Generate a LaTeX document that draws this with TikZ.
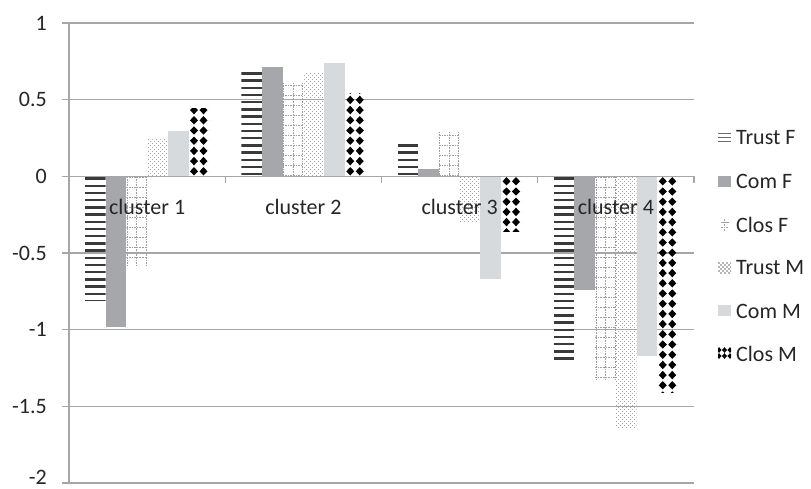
\documentclass[tikz,border=0pt]{standalone}
\usepackage{fontspec}
\setmainfont{Carlito}
\definecolor{gridc}{HTML}{A6A6A6}
\definecolor{comf}{HTML}{A5A7AA}
\definecolor{comm}{HTML}{D7DADD}
\definecolor{trustc}{HTML}{3A3A3A}
\definecolor{closf}{HTML}{A0A0A0}
\definecolor{dotc}{HTML}{A4A4A4}
\definecolor{txtc}{HTML}{262626}
\newcommand\setbar[3]{%
  \pgfmathsetmacro\bxa{85+156.25*#1+20.7*#2}%
  \pgfmathsetmacro\bxb{\bxa+20.7}%
  \pgfmathsetmacro\byv{176.3-153.3*(#3)}%
  \pgfmathsetmacro\bytop{min(176.3,\byv)}%
  \pgfmathsetmacro\bybot{max(176.3,\byv)}%
  \pgfmathsetmacro\sg{ifthenelse(#3<0,1,-1)}%
}
\newcommand\trustFbar[2]{%
  \setbar{#1}{0}{#2}%
  \pgfmathtruncatemacro\nk{abs(\byv-176.3)/7.2}%
  \begin{scope}
    \clip (\bxa,\bytop) rectangle (\bxb,\bybot);
    \foreach \k in {0,...,\nk} {
      \pgfmathsetmacro\yy{176.3+\sg*(2.2+7.2*\k)}
      \fill[trustc] (\bxa,\yy-1.2) rectangle (\bxb,\yy+1.2);
    }
  \end{scope}}
\newcommand\comFbar[2]{%
  \setbar{#1}{1}{#2}%
  \fill[comf] (\bxa,176.3) rectangle (\bxb,\byv);}
\newcommand\closFbar[2]{%
  \setbar{#1}{2}{#2}%
  \pgfmathtruncatemacro\nk{abs(\byv-176.3)/10}%
  \begin{scope}
    \clip (\bxa,\bytop) rectangle (\bxb,\bybot);
    \foreach \xo in {0.8,10.35,19.9}
      \draw[closf,line width=0.9,dash pattern=on 1.6 off 1] (\bxa+\xo,\bytop) -- (\bxa+\xo,\bybot);
    \foreach \k in {0,...,\nk} {
      \pgfmathsetmacro\yy{176.3+\sg*(1+10*\k)}
      \draw[closf,line width=0.9,dash pattern=on 1.6 off 1] (\bxa,\yy) -- (\bxb,\yy);
    }
  \end{scope}}
\newcommand\trustMbar[2]{%
  \setbar{#1}{3}{#2}%
  \pgfmathtruncatemacro\nk{abs(\byv-176.3)/2}%
  \begin{scope}
    \clip (\bxa,\bytop) rectangle (\bxb,\bybot);
    \foreach \k in {0,...,\nk} {
      \pgfmathsetmacro\yy{176.3+\sg*(1+2*\k)}
      \pgfmathsetmacro\off{mod(\k,2)*2}
      \foreach \c in {0,...,5}
        \fill[dotc] (\bxa+\off+1+4*\c-0.6,\yy-0.6) rectangle (\bxa+\off+1+4*\c+0.6,\yy+0.6);
    }
  \end{scope}}
\newcommand\comMbar[2]{%
  \setbar{#1}{4}{#2}%
  \fill[comm] (\bxa,176.3) rectangle (\bxb,\byv);}
\newcommand\closMbar[2]{%
  \setbar{#1}{5}{#2}%
  \pgfmathtruncatemacro\nk{abs(\byv-176.3)/10.2+1}%
  \begin{scope}
    \clip (\bxa,\bytop) rectangle (\bxb,\bybot);
    \foreach \k in {0,...,\nk} {
      \pgfmathsetmacro\yy{176.3+\sg*(5+10.2*\k)}
      \foreach \xo in {-4,5.5,15,24.5}
        \fill[black] (\bxa+\xo,\yy-4.2) -- (\bxa+\xo+4,\yy) -- (\bxa+\xo,\yy+4.2) -- (\bxa+\xo-4,\yy) -- cycle;
    }
  \end{scope}}
\tikzset{
  gridl/.style={draw=gridc,line width=1.4},
  lbl/.style={font=\fontsize{22}{26}\selectfont,text=txtc,inner sep=0pt},
}
\begin{document}
\begin{tikzpicture}[x=1pt,y=-1pt]
\fill[white] (0,0) rectangle (811,488);
\useasboundingbox (0,0) rectangle (811,488);
% grid lines
\foreach \v in {1,0.5,-0.5,-1,-1.5,-2}
  \draw[gridl] (62,{176.3-153.3*\v}) -- (694,{176.3-153.3*\v});
\draw[gridl] (69,23) -- (69,483);
% bars
\trustFbar{0}{-0.81} \comFbar{0}{-0.98} \closFbar{0}{-0.59}
\trustMbar{0}{0.237} \comMbar{0}{0.295} \closMbar{0}{0.44}
\trustFbar{1}{0.68} \comFbar{1}{0.71} \closFbar{1}{0.61}
\trustMbar{1}{0.675} \comMbar{1}{0.74} \closMbar{1}{0.54}
\trustFbar{2}{0.226} \comFbar{2}{0.047} \closFbar{2}{0.29}
\trustMbar{2}{-0.30} \comMbar{2}{-0.67} \closMbar{2}{-0.36}
\trustFbar{3}{-1.23} \comFbar{3}{-0.74} \closFbar{3}{-1.33}
\trustMbar{3}{-1.64} \comMbar{3}{-1.17} \closMbar{3}{-1.41}
% zero axis and ticks
\draw[gridl] (62,176.3) -- (694,176.3);
\foreach \xt in {225.25,381.5,537.75,694}
  \draw[gridl] (\xt,176.3) -- (\xt,182.5);
% y labels
\node[lbl,anchor=east] (y1) at (47,23) {1};
\node[lbl,anchor=east] (y2) at (47,99.65) {0.5};
\node[lbl,anchor=east] (y3) at (47,176.3) {0};
\node[lbl,anchor=east] (y4) at (47,252.95) {-0.5};
\node[lbl,anchor=east] (y5) at (47,329.6) {-1};
\node[lbl,anchor=east] (y6) at (47,406.25) {-1.5};
\node[lbl,anchor=east] (y7) at (47,477.5) {-2};
% category labels
\node[lbl,anchor=base] (c1) at (147.1,214) {cluster 1};
\node[lbl,anchor=base] (c2) at (303.4,214) {cluster 2};
\node[lbl,anchor=base] (c3) at (459.6,214) {cluster 3};
\node[lbl,anchor=base] (c4) at (615.9,214) {cluster 4};
% legend markers
\begin{scope}
  \clip (718,132) rectangle (731,144);
  \foreach \yy in {133.5,137.5,141.5}
    \fill[trustc!75] (718,\yy-0.7) rectangle (731,\yy+0.7);
\end{scope}
\fill[comf] (718,176) rectangle (731,187);
\begin{scope}
  \draw[closf,line width=0.9,dash pattern=on 1.6 off 1] (724.5,219) -- (724.5,231);
  \draw[closf,line width=0.9] (720.5,222) -- (728.5,222);
  \draw[closf,line width=0.9,dash pattern=on 1.6 off 1] (721,227) -- (728,227);
\end{scope}
\begin{scope}
  \clip (718,262) rectangle (731,273);
  \foreach \k in {0,...,5} {
    \pgfmathsetmacro\yy{263+2*\k}
    \pgfmathsetmacro\off{mod(\k,2)*2}
    \foreach \c in {0,...,3}
      \fill[dotc!80] (718+\off+1+4*\c-0.6,\yy-0.6) rectangle (718+\off+1+4*\c+0.6,\yy+0.6);
  }
\end{scope}
\fill[comm] (718,305) rectangle (731,316);
\begin{scope}
  \clip (718,347) rectangle (731,359);
  \foreach \yy in {350,356}
    \foreach \xx in {719,724.5,730}
      \fill[black] (\xx,\yy-2.8) -- (\xx+2.6,\yy) -- (\xx,\yy+2.8) -- (\xx-2.6,\yy) -- cycle;
\end{scope}
% legend texts
\node[lbl,anchor=west] (l1) at (736,138) {Trust F};
\node[lbl,anchor=west] (l2) at (736,181.5) {Com F};
\node[lbl,anchor=west] (l3) at (736,225) {Clos F};
\node[lbl,anchor=west] (l4) at (736,268) {Trust M};
\node[lbl,anchor=west] (l5) at (736,311) {Com M};
\node[lbl,anchor=west] (l6) at (736,354) {Clos M};
\end{tikzpicture}
\end{document}
